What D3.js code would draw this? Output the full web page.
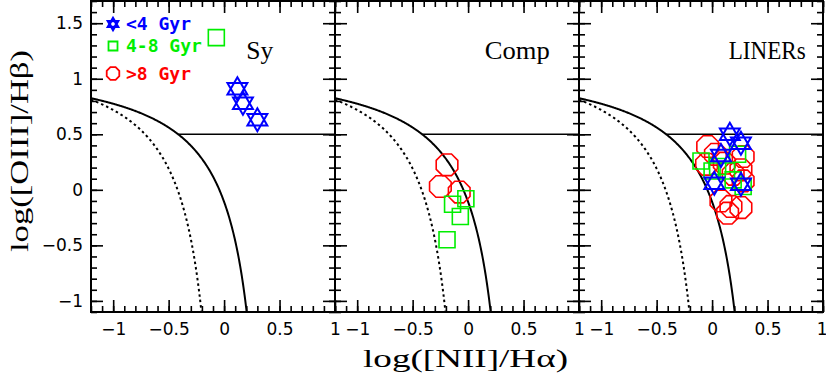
<!DOCTYPE html>
<html>
<head>
<meta charset="utf-8">
<script src="https://cdn.jsdelivr.net/npm/d3@7"></script>
<style>
  html, body { margin: 0; padding: 0; background: #fff; }
  svg { display: block; }
  .tick text { font-family: "DejaVu Sans", sans-serif; font-size: 17px; fill: #000; }
  .tick line { stroke: #000; stroke-width: 1.6px; }
</style>
</head>
<body>
<div id="chart"></div>
<script>
// panel names and the age classes of the legend
const panelNames = ["Sy", "Comp", "LINERs"];
const ageLabels = ["<4 Gyr", "4-8 Gyr", ">8 Gyr"];
const ageColors = ["#0000ff", "#00ee00", "#ff0000"];

// [log(NII/Ha), log(OIII/Hb)] per panel and age class
const syYoung = [[0.12, 0.91], [0.17, 0.78], [0.30, 0.63]];
const syMid = [[-0.07, 1.37]];
const syOld = [];

const compYoung = [];
const compMid = [[-0.02, -0.08], [-0.14, -0.13], [-0.07, -0.24], [-0.19, -0.45]];
const compOld = [[-0.19, 0.225], [-0.25, 0.03], [-0.08, -0.02]];

const linYoung = [[0.16, 0.50], [0.26, 0.42], [0.02, 0.06], [0.08, 0.31], [0.26, 0.05]];
const linMid = [[-0.10, 0.26], [0.23, 0.32], [0.28, 0.03], [0.13, 0.17], [0.19, 0.09],
                [0.05, 0.21], [0.00, 0.17]];
const linOld = [[-0.04, 0.39], [0.03, 0.32], [-0.05, 0.23], [0.11, 0.24], [0.28, 0.30],
                [0.26, 0.18], [0.19, 0.14], [0.28, 0.08], [0.08, -0.10], [0.17, -0.15],
                [0.26, -0.16], [0.14, -0.21]];

// demarcation lines: y = a / (x - b) + c  (Kauffmann 2003, Kewley 2001)
const kauffmann = [0.61, 0.05, 1.30];
const kewley = [0.61, 0.47, 1.19];
const seyfertCut = 0.5;

const xMajor = [-1, -0.5, 0, 0.5, 1];
const yMajor = [-1, -0.5, 0, 0.5, 1, 1.5];

const panelData = [
    [syYoung, syMid, syOld],
    [compYoung, compMid, compOld],
    [linYoung, linMid, linOld]
];

const width = 826, height = 383;
const margin = { left: 91, top: 1 };
const panelW = 244, panelH = 311;
const labelWidths = [27, 65, 77];

const svg = d3.select("#chart").append("svg")
    .attr("width", width)
    .attr("height", height);

const y = d3.scaleLinear().domain([-1.1, 1.7]).range([margin.top + panelH, margin.top]);
const xMinor = d3.range(-12, 11).map(d => d / 10);
const yMinor = d3.range(-11, 18).map(d => d / 10);

function starPath(r) {
    const c = r * Math.cos(Math.PI / 6);
    return `M0,${-r}L${c},${r / 2}L${-c},${r / 2}Z M0,${r}L${c},${-r / 2}L${-c},${-r / 2}Z`;
}
function squarePath(s) {
    return `M${-s / 2},${-s / 2}h${s}v${s}h${-s}Z`;
}
function octPath(r) {
    const pts = d3.range(8).map(k => {
        const a = (22.5 + k * 45) * Math.PI / 180;
        return [r * Math.cos(a), r * Math.sin(a)];
    });
    return "M" + pts.map(p => p.join(",")).join("L") + "Z";
}
const markerPaths = [starPath(11.5), squarePath(16), octPath(11.7)];
const legendPaths = [starPath(5.8), squarePath(9), octPath(6.8)];

function curve(coef, x) {
    return coef[0] / (x - coef[1]) + coef[2];
}

panelNames.forEach((name, i) => {
    const x0 = margin.left + i * panelW;
    const x = d3.scaleLinear().domain([-1.2, 1]).range([x0, x0 + panelW]);
    const g = svg.append("g");

    const clipId = "clip" + i;
    svg.append("clipPath").attr("id", clipId)
        .append("rect")
        .attr("x", x0).attr("y", margin.top)
        .attr("width", panelW).attr("height", panelH);

    // axes, ticks pointing inward on all four sides
    const fmt = d3.format("");
    const bottom = g.append("g").attr("transform", `translate(0,${margin.top + panelH})`);
    bottom.call(d3.axisBottom(x).tickValues(xMinor).tickSize(-6).tickFormat(""));
    const bottomMajor = bottom.append("g").call(d3.axisBottom(x).tickValues(xMajor).tickSize(-12)
        .tickPadding(11).tickFormat(fmt));
    if (i === panelNames.length - 1) {
        // keep the last "1" inside the window
        bottomMajor.selectAll(".tick").filter(d => d === 1).select("text")
            .attr("text-anchor", "end").attr("x", 4);
    }
    const top = g.append("g").attr("transform", `translate(0,${margin.top})`);
    top.call(d3.axisTop(x).tickValues(xMinor).tickSize(-6).tickFormat(""));
    top.append("g").call(d3.axisTop(x).tickValues(xMajor).tickSize(-12).tickFormat(""));

    const left = g.append("g").attr("transform", `translate(${x0},0)`);
    left.call(d3.axisLeft(y).tickValues(yMinor).tickSize(-6).tickFormat(""));
    left.append("g").call(d3.axisLeft(y).tickValues(yMajor).tickSize(-12).tickPadding(8)
        .tickFormat(i === 0 ? fmt : ""));
    const right = g.append("g").attr("transform", `translate(${x0 + panelW},0)`);
    right.call(d3.axisRight(y).tickValues(yMinor).tickSize(-6).tickFormat(""));
    right.append("g").call(d3.axisRight(y).tickValues(yMajor).tickSize(-12).tickFormat(""));
    g.selectAll(".domain").remove();

    g.append("rect")
        .attr("x", x0).attr("y", margin.top)
        .attr("width", panelW).attr("height", panelH)
        .attr("fill", "none").attr("stroke", "#000").attr("stroke-width", 2);

    // demarcation curves
    const lines = g.append("g").attr("clip-path", `url(#${clipId})`);
    const line = d3.line().x(d => x(d[0])).y(d => y(d[1]));
    const kaufEnd = kauffmann[1] + kauffmann[0] / (-1.1 - kauffmann[2]);
    const kewEnd = kewley[1] + kewley[0] / (-1.1 - kewley[2]);
    const kaufPts = d3.range(-1.2, kaufEnd, 0.005).concat([kaufEnd]).map(v => [v, curve(kauffmann, v)]);
    const kewPts = d3.range(-1.2, kewEnd, 0.005).concat([kewEnd]).map(v => [v, curve(kewley, v)]);
    const cutStart = kewley[1] + kewley[0] / (seyfertCut - kewley[2]);

    lines.append("path").attr("d", line(kaufPts))
        .attr("fill", "none").attr("stroke", "#000").attr("stroke-width", 2)
        .attr("stroke-dasharray", "2.5,3");
    lines.append("path").attr("d", line(kewPts))
        .attr("fill", "none").attr("stroke", "#000").attr("stroke-width", 2);
    lines.append("path").attr("d", line([[cutStart, seyfertCut], [1, seyfertCut]]))
        .attr("fill", "none").attr("stroke", "#000").attr("stroke-width", 1.6);

    // data points: old first, young on top
    const pts = g.append("g").attr("clip-path", `url(#${clipId})`);
    [2, 1, 0].forEach(k => {
        pts.selectAll(null)
            .data(panelData[i][k])
            .join("path")
            .attr("d", markerPaths[k])
            .attr("transform", d => `translate(${x(d[0])},${y(d[1])})`)
            .attr("fill", "none")
            .attr("stroke", ageColors[k])
            .attr("stroke-width", k === 0 ? 2 : 1.6);
    });

    // panel label
    g.append("text")
        .attr("x", x(i === 0 ? 0.2 : 0.15))
        .attr("y", y(1.18))
        .attr("font-family", "Liberation Serif, serif")
        .attr("font-size", 25)
        .attr("textLength", labelWidths[i])
        .attr("lengthAdjust", "spacingAndGlyphs")
        .text(name);
});

// legend in the first panel
const legend = svg.append("g");
ageLabels.forEach((label, k) => {
    const ly = [24, 46, 73.5][k];
    legend.append("path")
        .attr("d", legendPaths[k])
        .attr("transform", `translate(${margin.left + 22},${ly})`)
        .attr("fill", "none")
        .attr("stroke", ageColors[k])
        .attr("stroke-width", k === 0 ? 2.4 : 1.8);
    legend.append("text")
        .attr("x", margin.left + 35)
        .attr("y", ly)
        .attr("dy", "0.36em")
        .attr("font-family", "DejaVu Sans Mono, monospace")
        .attr("font-weight", "bold")
        .attr("font-size", 18)
        .attr("fill", ageColors[k])
        .text(label);
});

// axis titles
svg.append("text")
    .attr("x", 363)
    .attr("y", 367)
    .attr("font-family", "Liberation Serif, serif")
    .attr("font-size", 26)
    .attr("textLength", 205)
    .attr("lengthAdjust", "spacingAndGlyphs")
    .text("log([NII]/Hα)");

svg.append("text")
    .attr("transform", "translate(28,151) rotate(-90)")
    .attr("text-anchor", "middle")
    .attr("font-family", "Liberation Serif, serif")
    .attr("font-size", 26)
    .attr("textLength", 202)
    .attr("lengthAdjust", "spacingAndGlyphs")
    .text("log([OIII]/Hβ)");
</script>
</body>
</html>
